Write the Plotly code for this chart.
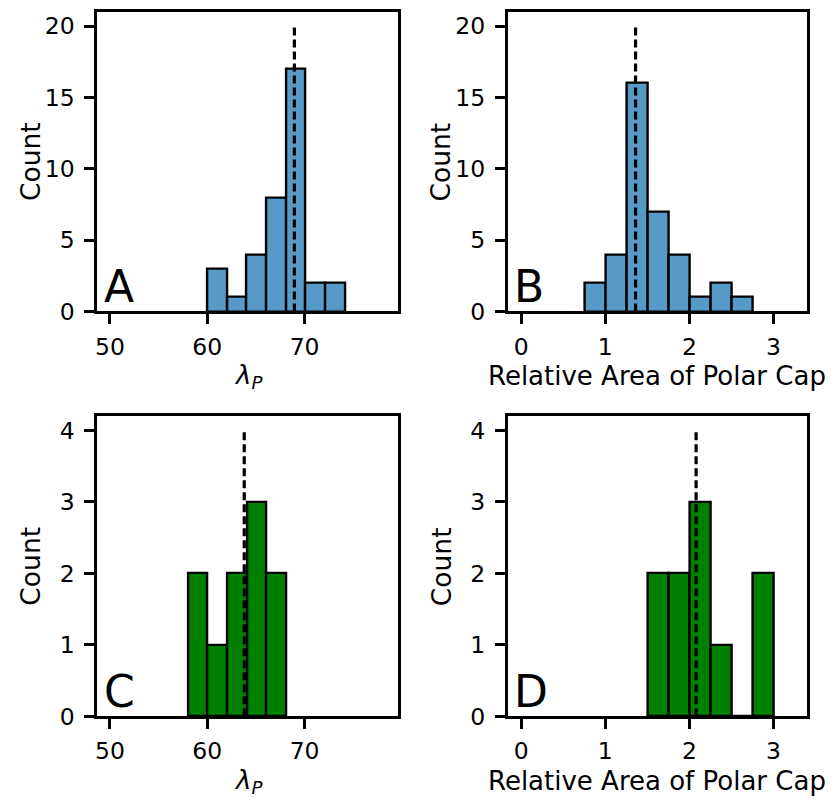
import plotly.graph_objects as go

# Histogram bin edges and counts for the four panels
A_edges = [60.0, 62.02, 64.04, 66.06, 68.08, 70.1, 72.12, 74.14]
A_counts = [3, 1, 4, 8, 17, 2, 2]
B_edges = [0.75, 1.0, 1.25, 1.5, 1.75, 2.0, 2.25, 2.5, 2.75]
B_counts = [2, 4, 16, 7, 4, 1, 2, 1]
C_edges = [58.0, 60.02, 62.04, 64.06, 66.08, 68.1]
C_counts = [2, 1, 2, 3, 2]
D_edges = [1.5, 1.75, 2.0, 2.25, 2.5, 2.75, 3.0]
D_counts = [2, 2, 3, 1, 0, 2]

# Median markers (dashed lines) and their heights
medians = {"A": 68.95, "B": 1.36, "C": 63.8, "D": 2.08}
median_tops = {"A": 20, "B": 20, "C": 4, "D": 4}

lam_ticks = [50, 60, 70]
area_ticks = [0, 1, 2, 3]
top_yticks = [0, 5, 10, 15, 20]
bot_yticks = [0, 1, 2, 3, 4]

BLUE = "#5799C7"
GREEN = "#008000"
FONT = "DejaVu Sans"
W, H = 834, 803

panels = {
    "A": dict(edges=A_edges, counts=A_counts, color=BLUE, xr=[48.7, 79.6], yr=[0, 21],
              xt=lam_ticks, yt=top_yticks, px=(95.5, 397), py=(12, 317)),
    "B": dict(edges=B_edges, counts=B_counts, color=BLUE, xr=[-0.16, 3.4], yr=[0, 21],
              xt=area_ticks, yt=top_yticks, px=(507, 807), py=(12, 317)),
    "C": dict(edges=C_edges, counts=C_counts, color=GREEN, xr=[48.7, 79.6], yr=[0, 4.2],
              xt=lam_ticks, yt=bot_yticks, px=(95.5, 397), py=(423.5, 729)),
    "D": dict(edges=D_edges, counts=D_counts, color=GREEN, xr=[-0.16, 3.4], yr=[0, 4.2],
              xt=area_ticks, yt=bot_yticks, px=(507, 807), py=(423.5, 729)),
}
xlabels = {"A": "<i>λ<sub>P</sub></i>", "B": "Relative Area of Polar Cap",
           "C": "<i>λ<sub>P</sub></i>", "D": "Relative Area of Polar Cap"}

fig = go.Figure()
layout = dict(
    width=W, height=H, margin=dict(l=0, r=0, t=0, b=0),
    paper_bgcolor="white", plot_bgcolor="white", showlegend=False,
    font=dict(family=FONT, color="black"),
    bargap=0,
)
annotations = []

for i, (key, p) in enumerate(panels.items(), start=1):
    xa = "x" if i == 1 else f"x{i}"
    ya = "y" if i == 1 else f"y{i}"
    edges, counts = p["edges"], p["counts"]
    centers = [(edges[j] + edges[j + 1]) / 2 for j in range(len(counts))]
    widths = [edges[j + 1] - edges[j] for j in range(len(counts))]
    fig.add_trace(go.Bar(
        x=centers, y=counts, width=widths, xaxis=xa, yaxis=ya,
        marker=dict(color=p["color"], line=dict(color="black", width=2.4)),
    ))
    m = medians[key]
    fig.add_trace(go.Scatter(
        x=[m, m], y=[0, median_tops[key]], xaxis=xa, yaxis=ya, mode="lines",
        line=dict(color="black", width=3.2, dash="8px,4px"),
    ))
    x0, x1 = p["px"]
    y0, y1 = p["py"]
    axis_common = dict(
        showline=True, mirror=True, linecolor="black", linewidth=2.8,
        ticks="outside", ticklen=10, tickwidth=2.6, tickcolor="black",
        showgrid=False, zeroline=False,
        tickfont=dict(family=FONT, size=23.5, color="black"),
    )
    layout["xaxis" if i == 1 else f"xaxis{i}"] = dict(
        axis_common, domain=[x0 / W, x1 / W], range=p["xr"],
        tickvals=p["xt"], anchor=ya, ticklabelstandoff=2,
    )
    layout["yaxis" if i == 1 else f"yaxis{i}"] = dict(
        axis_common, domain=[1 - y1 / H, 1 - y0 / H], range=p["yr"],
        tickvals=p["yt"], anchor=xa, ticklabelstandoff=5,
    )
    # panel letter
    annotations.append(dict(
        text=key, xref=f"{xa} domain", yref=f"{ya} domain", x=0.015, y=-0.01,
        xanchor="left", yanchor="bottom", showarrow=False,
        font=dict(family=FONT, size=44, color="black"),
    ))
    # axis titles
    annotations.append(dict(
        text="Count", xref="paper", yref="paper", x=(x0 - 67) / W,
        y=1 - (y0 + y1) / 2 / H, xanchor="center", yanchor="middle",
        textangle=-90, showarrow=False, font=dict(family=FONT, size=26.5, color="black"),
    ))
    annotations.append(dict(
        text=xlabels[key], xref="paper", yref="paper", x=(x0 + x1) / 2 / W,
        y=1 - (y1 + 66) / H, xanchor="center", yanchor="middle", borderpad=0,
        showarrow=False, font=dict(family=FONT, size=26, color="black"),
    ))

layout["annotations"] = annotations
fig.update_layout(**layout)
fig.write_html("out.html")
